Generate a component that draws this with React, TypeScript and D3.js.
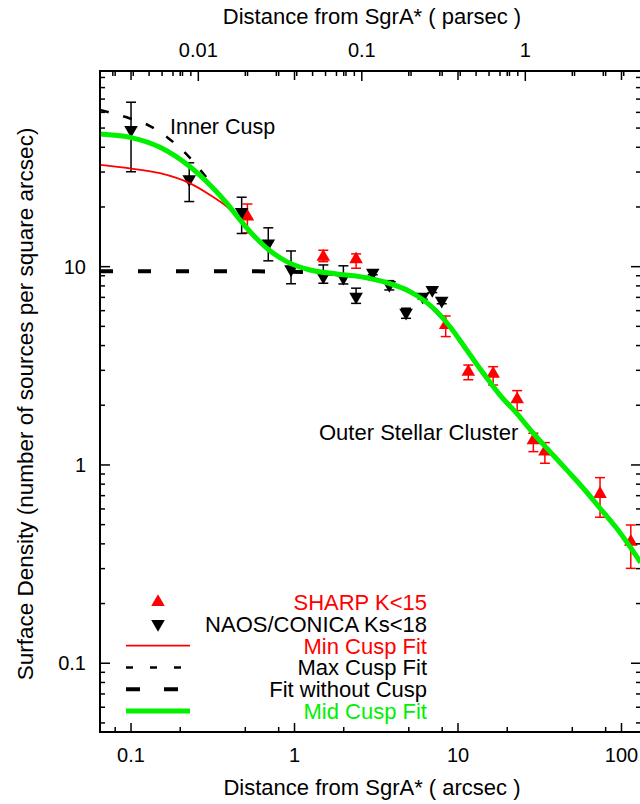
import { useEffect, useRef } from "react";
import * as d3 from "d3";

// [arcsec, density, low, high]
const sharpPoints: [number, number, number, number][] = [
  [0.515, 17.9, 14.8, 20.7],
  [1.5, 11.2, 10.6, 12.1],
  [2.38, 10.9, 9.82, 11.6],
  [8.41, 5.08, 4.44, 5.64],
  [11.56, 2.95, 2.69, 3.19],
  [16.4, 2.88, 2.53, 3.13],
  [23.0, 2.14, 1.88, 2.37],
  [28.9, 1.33, 1.167, 1.445],
  [34.0, 1.167, 1.02, 1.296],
  [73.9, 0.714, 0.545, 0.863],
  [114, 0.41, 0.301, 0.498],
];

const naosPoints: [number, number, number, number][] = [
  [0.1, 48.9, 30.1, 67.5],
  [0.227, 27.6, 21.3, 33.4],
  [0.475, 18.9, 14.7, 22.4],
  [0.691, 13.1, 10.7, 15.7],
  [0.952, 9.7, 8.2, 12.0],
  [1.5, 8.9, 8.25, 10.2],
  [1.99, 8.8, 8.18, 10.1],
  [2.38, 7.06, 6.53, 7.79],
  [3.01, 9.33, 9.1, 9.55],
  [3.8, 8.09, 7.63, 8.5],
  [4.81, 5.86, 5.49, 6.17],
  [6.08, 7.06, 6.85, 7.3],
  [6.96, 7.63, 7.4, 7.85],
  [7.95, 6.74, 6.5, 6.95],
];

// fitted profiles: [arcsec, density]
const midCusp: [number, number][] = [
  [0.0646, 46.7], [0.0986, 44.9], [0.1504, 40.0], [0.2296, 31.9],
  [0.3042, 25.8], [0.3849, 20.9], [0.4641, 17.2], [0.5472, 14.7],
  [0.676, 12.4], [0.896, 10.6], [1.244, 9.62], [1.812, 9.19],
  [2.515, 8.91], [3.493, 8.4], [5.087, 7.48], [7.063, 6.17],
  [8.934, 4.98], [11.3, 3.8], [14.28, 2.9], [18.06, 2.25],
  [22.86, 1.82], [28.87, 1.445], [36.53, 1.167], [46.22, 0.944],
  [58.41, 0.763], [73.87, 0.605], [93.45, 0.479], [131, 0.322],
];

const minCusp: [number, number][] = [
  [0.0646, 32.6], [0.0986, 31.3], [0.1504, 29.6], [0.2296, 26.3],
  [0.3042, 23.0], [0.3849, 20.1], [0.4641, 17.2], [0.5472, 14.6],
  [0.676, 12.3], [0.896, 10.56], [1.244, 9.62], [1.812, 9.19],
  [2.515, 8.91], [3.493, 8.4], [5.087, 7.48], [7.063, 6.17],
  [8.934, 4.98], [11.3, 3.8], [14.28, 2.9], [18.06, 2.25],
  [22.86, 1.82], [28.87, 1.445], [36.53, 1.167], [46.22, 0.944],
  [58.41, 0.763], [73.87, 0.605], [93.45, 0.479], [131, 0.322],
];

const maxCusp: [number, number][] = [
  [0.0646, 61.7], [0.0986, 55.9], [0.1306, 51.2], [0.1684, 44.6],
  [0.2232, 36.2], [0.2836, 28.7], [0.3602, 22.2], [0.4641, 17.2],
  [0.5472, 14.7], [0.676, 12.4], [0.896, 10.6], [1.244, 9.62],
  [1.812, 9.19], [2.515, 8.91], [3.493, 8.4], [5.087, 7.48],
  [7.063, 6.17], [8.934, 4.98], [11.3, 3.8], [14.28, 2.9],
  [18.06, 2.25], [22.86, 1.82], [28.87, 1.445], [36.53, 1.167],
  [46.22, 0.944], [58.41, 0.763], [73.87, 0.605], [93.45, 0.479], [131, 0.322],
];

const noCusp: [number, number][] = [
  [0.0646, 9.48], [0.3, 9.48], [0.6, 9.47], [0.9, 9.44], [1.244, 9.38],
  [1.812, 9.15], [2.515, 8.91], [3.493, 8.4], [5.087, 7.48], [7.063, 6.17],
  [8.934, 4.98], [11.3, 3.8], [14.28, 2.9], [18.06, 2.25], [22.86, 1.82],
  [28.87, 1.445], [36.53, 1.167], [46.22, 0.944], [58.41, 0.763],
  [73.87, 0.605], [93.45, 0.479], [131, 0.322],
];

const arcsecPerParsec = 25.8;

const xMajor = [0.1, 1, 10, 100];
const xMinor = [0.08, 0.2, 0.5, 0.8, 2, 5, 8, 20, 50, 80];
const xLabels = ["0.1", "1", "10", "100"];

const pcMajor = [0.01, 0.1, 1];
const pcMinor = [
  0.003, 0.004, 0.005, 0.006, 0.007, 0.008, 0.009,
  0.02, 0.03, 0.04, 0.05, 0.06, 0.07, 0.08, 0.09,
  0.2, 0.3, 0.4, 0.5, 0.6, 0.7, 0.8, 0.9, 2, 3, 4,
];
const pcLabels = ["0.01", "0.1", "1"];

const yMajor = [0.1, 1, 10];
const yMinor = [
  0.05, 0.06, 0.07, 0.08, 0.09,
  0.2, 0.3, 0.4, 0.5, 0.6, 0.7, 0.8, 0.9,
  2, 3, 4, 5, 6, 7, 8, 9,
  20, 30, 40, 50, 60, 70, 80, 90,
];
const yLabels = ["0.1", "1", "10"];

const legendLabels = [
  "SHARP K<15",
  "NAOS/CONICA Ks<18",
  "Min Cusp Fit",
  "Max Cusp Fit",
  "Fit without Cusp",
  "Mid Cusp Fit",
];

const RED = "#ff0000";
const GREEN = "#00f000";
const FONT = "'Liberation Sans', Arial, Helvetica, sans-serif";

const App = () => {
  const svgRef = useRef<SVGSVGElement>(null);

  useEffect(() => {
    const left = 100, right = 641, top = 71, bottom = 732;

    const x = d3.scaleLog().domain([0.0646, 131.6]).range([left, right]);
    const y = d3.scaleLog().domain([0.045, 97]).range([bottom, top]);

    const svg = d3.select(svgRef.current).attr("width", 640).attr("height", 804);
    svg.selectAll("*").remove();
    svg.append("rect").attr("width", 640).attr("height", 804).attr("fill", "white");

    const plot = svg.append("g");

    // data points with error bars
    const drawPoints = (
      data: [number, number, number, number][],
      color: string,
      down: boolean
    ) => {
      const g = plot.append("g");
      data.forEach(([xv, yv, lo, hi]) => {
        const cx = x(xv);
        g.append("line")
          .attr("x1", cx).attr("x2", cx)
          .attr("y1", y(lo)).attr("y2", y(hi))
          .attr("stroke", color).attr("stroke-width", 1.5);
        [lo, hi].forEach((v) => {
          g.append("line")
            .attr("x1", cx - 5).attr("x2", cx + 5)
            .attr("y1", y(v)).attr("y2", y(v))
            .attr("stroke", color).attr("stroke-width", 1.5);
        });
        g.append("path")
          .attr("d", d3.symbol(d3.symbolTriangle, 80)())
          .attr("transform", `translate(${cx},${y(yv)}) rotate(${down ? 180 : 0})`)
          .attr("fill", color);
      });
    };
    drawPoints(sharpPoints, RED, false);
    drawPoints(naosPoints, "black", true);

    const line = d3
      .line<[number, number]>()
      .x((d) => x(d[0]))
      .y((d) => y(d[1]))
      .curve(d3.curveMonotoneX);

    const clip = svg.append("clipPath").attr("id", "plotclip");
    clip.append("rect").attr("x", left).attr("y", top).attr("width", right - left).attr("height", bottom - top);
    const curves = plot.append("g").attr("clip-path", "url(#plotclip)");

    curves.append("path").attr("d", line(minCusp)).attr("fill", "none")
      .attr("stroke", RED).attr("stroke-width", 1.8);
    curves.append("path").attr("d", line(maxCusp)).attr("fill", "none")
      .attr("stroke", "black").attr("stroke-width", 2.5).attr("stroke-dasharray", "9 15");
    curves.append("path").attr("d", line(noCusp)).attr("fill", "none")
      .attr("stroke", "black").attr("stroke-width", 4).attr("stroke-dasharray", "13 25");
    curves.append("path").attr("d", line(midCusp)).attr("fill", "none")
      .attr("stroke", GREEN).attr("stroke-width", 5);

    // frame
    svg.append("rect")
      .attr("x", left).attr("y", top)
      .attr("width", right - left).attr("height", bottom - top)
      .attr("fill", "none").attr("stroke", "black").attr("stroke-width", 2);

    const ticks = svg.append("g").attr("stroke", "black").attr("stroke-width", 1.5);
    const vTick = (px: number, len: number) => {
      ticks.append("line").attr("x1", px).attr("x2", px).attr("y1", bottom).attr("y2", bottom - len);
      ticks.append("line").attr("x1", px).attr("x2", px).attr("y1", top).attr("y2", top + len);
    };
    xMajor.forEach((v) => vTick(x(v), 9));
    xMinor.forEach((v) => vTick(x(v), 5));
    pcMajor.forEach((v) =>
      ticks.append("line").attr("x1", x(v * arcsecPerParsec)).attr("x2", x(v * arcsecPerParsec))
        .attr("y1", top).attr("y2", top + 10)
    );
    pcMinor.forEach((v) =>
      ticks.append("line").attr("x1", x(v * arcsecPerParsec)).attr("x2", x(v * arcsecPerParsec))
        .attr("y1", top).attr("y2", top + 5)
    );
    const hTick = (py: number, len: number) => {
      ticks.append("line").attr("x1", left).attr("x2", left + len).attr("y1", py).attr("y2", py);
      ticks.append("line").attr("x1", right).attr("x2", right - len).attr("y1", py).attr("y2", py);
    };
    yMajor.forEach((v) => hTick(y(v), 10));
    yMinor.forEach((v) => hTick(y(v), 5));

    const text = svg.append("g").attr("font-family", FONT).attr("fill", "black");

    xMajor.forEach((v, i) =>
      text.append("text").attr("x", x(v)).attr("y", 762).attr("text-anchor", "middle")
        .attr("font-size", 20).text(xLabels[i])
    );
    pcMajor.forEach((v, i) =>
      text.append("text").attr("x", x(v * arcsecPerParsec)).attr("y", 57).attr("text-anchor", "middle")
        .attr("font-size", 20).text(pcLabels[i])
    );
    yMajor.forEach((v, i) =>
      text.append("text").attr("x", 86).attr("y", y(v) + 7).attr("text-anchor", "end")
        .attr("font-size", 20).text(yLabels[i])
    );

    text.append("text").attr("x", 372).attr("y", 795).attr("text-anchor", "middle")
      .attr("font-size", 22).text("Distance from SgrA* ( arcsec )");
    text.append("text").attr("x", 372).attr("y", 24).attr("text-anchor", "middle")
      .attr("font-size", 22).text("Distance from SgrA* ( parsec )");
    text.append("text").attr("transform", "translate(33,404) rotate(-90)").attr("text-anchor", "middle")
      .attr("font-size", 22.5).text("Surface Density (number of sources per square arcsec)");

    text.append("text").attr("x", 170).attr("y", 134).attr("font-size", 21.5).text("Inner Cusp");
    text.append("text").attr("x", 319).attr("y", 440).attr("font-size", 22).text("Outer Stellar Cluster");

    // legend
    const legend = svg.append("g").attr("font-family", FONT).attr("font-size", 22);
    const rowY = (i: number) => 602 + i * 21.8;
    const colors = [RED, "black", RED, "black", "black", GREEN];
    legendLabels.forEach((label, i) => {
      legend.append("text").attr("x", 427).attr("y", rowY(i) + 8).attr("text-anchor", "end")
        .attr("fill", colors[i]).text(label);
    });
    legend.append("path").attr("d", d3.symbol(d3.symbolTriangle, 80)())
      .attr("transform", `translate(158,${rowY(0)})`).attr("fill", RED);
    legend.append("path").attr("d", d3.symbol(d3.symbolTriangle, 80)())
      .attr("transform", `translate(158,${rowY(1)}) rotate(180)`).attr("fill", "black");
    legend.append("line").attr("x1", 126).attr("x2", 190).attr("y1", rowY(2)).attr("y2", rowY(2))
      .attr("stroke", RED).attr("stroke-width", 1.8);
    legend.append("line").attr("x1", 126).attr("x2", 190).attr("y1", rowY(3)).attr("y2", rowY(3))
      .attr("stroke", "black").attr("stroke-width", 2.5).attr("stroke-dasharray", "7 17");
    legend.append("line").attr("x1", 126).attr("x2", 190).attr("y1", rowY(4)).attr("y2", rowY(4))
      .attr("stroke", "black").attr("stroke-width", 4).attr("stroke-dasharray", "14 24");
    legend.append("line").attr("x1", 126).attr("x2", 190).attr("y1", rowY(5)).attr("y2", rowY(5))
      .attr("stroke", GREEN).attr("stroke-width", 5);
  }, []);

  return <svg ref={svgRef} style={{ position: "absolute", left: 0, top: 0 }} />;
};

export default App;
